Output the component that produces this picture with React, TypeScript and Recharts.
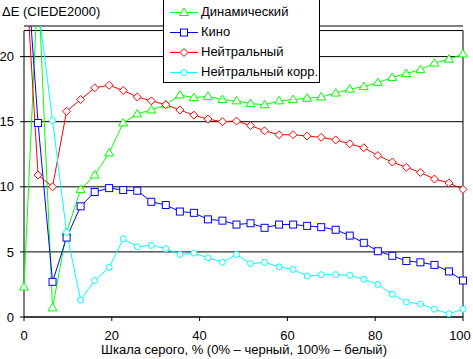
import { CartesianGrid, Legend, Line, LineChart, ReferenceLine, XAxis, YAxis } from "recharts";

const font = "'Liberation Sans', Arial, sans-serif";

// grey level, % (32 steps)
const grey = [
  0, 3.2, 6.5, 9.7, 12.9, 16.1, 19.4, 22.6, 25.8, 29.0, 32.3, 35.5, 38.7, 41.9, 45.2, 48.4,
  51.6, 54.8, 58.1, 61.3, 64.5, 67.7, 71.0, 74.2, 77.4, 80.6, 83.9, 87.1, 90.3, 93.5, 96.8, 100,
];
const dynamic = [
  2.3, 26, 0.7, 6.5, 9.8, 10.9, 12.6, 14.9, 15.6, 15.9, 16.3, 17.05, 16.85, 16.95, 16.7, 16.6,
  16.4, 16.3, 16.6, 16.7, 16.8, 16.9, 17.2, 17.5, 17.7, 18.0, 18.4, 18.7, 19.0, 19.5, 19.8, 20.2,
];
const cinema = [
  30, 14.9, 2.7, 6.1, 8.5, 9.6, 9.9, 9.75, 9.7, 8.85, 8.6, 8.1, 8.0, 7.5, 7.4, 7.1,
  7.2, 6.85, 7.1, 7.1, 7.0, 6.9, 6.7, 6.25, 5.7, 5.05, 4.7, 4.3, 4.2, 4.0, 3.5, 2.8,
];
const neutral = [
  28.8, 10.9, 10.0, 15.8, 16.7, 17.6, 17.8, 17.4, 16.9, 16.6, 16.3, 15.9, 15.5, 15.2, 15.0, 15.05,
  14.7, 14.3, 14.0, 14.0, 13.9, 13.8, 13.6, 13.3, 13.0, 12.4, 11.9, 11.5, 11.1, 10.6, 10.3, 9.8,
];
const neutralCorr = [
  25, 24, 15.1, 6.5, 1.3, 2.8, 3.8, 6.0, 5.4, 5.5, 5.25, 4.8, 4.9, 4.55, 4.2, 4.8,
  4.1, 4.2, 3.85, 3.65, 3.15, 3.25, 3.25, 3.2, 2.9, 2.5, 1.75, 1.15, 1.0, 0.6, 0.25, 0.6,
];

const xTicks = [0, 20, 40, 60, 80, 100];
const yTicks = [0, 5, 10, 15, 20];

const series = [
  { key: "dynamic", name: "Динамический", color: "#00ff00", shape: "triangle" },
  { key: "cinema", name: "Кино", color: "#0000ff", shape: "square" },
  { key: "neutral", name: "Нейтральный", color: "#ff0000", shape: "diamond" },
  { key: "neutralCorr", name: "Нейтральный корр.", color: "#00ffff", shape: "circle" },
];

const data = grey.map((x, i) => ({
  x,
  dynamic: dynamic[i],
  cinema: cinema[i],
  neutral: neutral[i],
  neutralCorr: neutralCorr[i],
}));

function Marker({ shape, color, cx, cy }: { shape: string; color: string; cx: number; cy: number }) {
  const common = { fill: "#fff", stroke: color, strokeWidth: 1 };
  if (shape === "triangle") {
    return <polygon points={`${cx},${cy - 4.5} ${cx + 4.5},${cy + 3} ${cx - 4.5},${cy + 3}`} {...common} />;
  }
  if (shape === "square") {
    return <rect x={cx - 3.5} y={cy - 3.5} width={7} height={7} {...common} />;
  }
  if (shape === "diamond") {
    return <polygon points={`${cx},${cy - 4} ${cx + 4},${cy} ${cx},${cy + 4} ${cx - 4},${cy}`} {...common} />;
  }
  return <circle cx={cx} cy={cy} r={3} {...common} />;
}

function dotFor(shape: string, color: string) {
  return (p: any) => {
    if (p.cx == null || p.cy == null || isNaN(p.cy)) return <g key={p.index} />;
    return (
      <g key={p.index}>
        <Marker shape={shape} color={color} cx={p.cx} cy={p.cy} />
      </g>
    );
  };
}

// last label sits a little inside the right edge, like the original
function XTick(props: any) {
  const { x, y, payload } = props;
  const shift = payload.value === 100 ? -3 : 0;
  return (
    <text x={x + shift} y={y} dy="0.71em" textAnchor="middle" fill="#000" fontSize={13} fontFamily={font}>
      {payload.value}
    </text>
  );
}

function LegendBox() {
  return (
    <div
      style={{
        position: "relative",
        width: 157,
        height: 84,
        border: "1px solid #000",
        background: "#fff",
        boxSizing: "border-box",
        fontFamily: font,
        fontSize: 13,
        color: "#000",
      }}
    >
      {series.map((s, i) => (
        <div
          key={s.key}
          style={{ position: "absolute", left: 0, top: 1.7 + i * 20, height: 20, display: "flex", alignItems: "center" }}
        >
          <svg width={37} height={20} style={{ display: "block" }}>
            <line x1={6} x2={34} y1={10.5} y2={10.5} stroke={s.color} />
            <Marker shape={s.shape} color={s.color} cx={20} cy={10.5} />
          </svg>
          <span style={{ whiteSpace: "nowrap" }}>{s.name}</span>
        </div>
      ))}
    </div>
  );
}

export default function App() {
  return (
    <div style={{ position: "absolute", left: 0, top: 0, width: 473, height: 359, background: "#fff" }}>
      <LineChart width={473} height={359} data={data} margin={{ top: 26, right: 10, left: 0, bottom: 0 }}>
        <CartesianGrid vertical={false} stroke="#000" />
        <XAxis
          dataKey="x"
          type="number"
          domain={[0, 100]}
          ticks={xTicks}
          interval={0}
          height={42}
          stroke="#000"
          tickSize={4}
          tickMargin={10}
          tick={<XTick />}
        />
        <YAxis
          type="number"
          domain={[0, 22.35]}
          allowDataOverflow
          ticks={yTicks}
          interval={0}
          width={24}
          axisLine={false}
          stroke="#000"
          tickSize={4}
          tickMargin={6}
          tick={{ fill: "#000", fontSize: 13, fontFamily: font }}
        />
        <ReferenceLine segment={[{ x: 0, y: 0 }, { x: 0, y: 22 }]} stroke="#000" />
        <ReferenceLine segment={[{ x: 0, y: 22 }, { x: 100, y: 22 }]} stroke="#000" />
        <ReferenceLine segment={[{ x: 100, y: 0 }, { x: 100, y: 22 }]} stroke="#000" />
        {series.map((s) => (
          <Line
            key={s.key}
            dataKey={s.key}
            name={s.name}
            stroke={s.color}
            strokeWidth={1}
            dot={dotFor(s.shape, s.color)}
            activeDot={false}
            isAnimationActive={false}
          />
        ))}
        <Legend
          layout="vertical"
          align="center"
          verticalAlign="middle"
          wrapperStyle={{ left: 163, top: -1, width: 157, height: 84 }}
          content={() => <LegendBox />}
        />
      </LineChart>
      <div style={{ position: "absolute", left: 2, top: 4, fontFamily: font, fontSize: 13, lineHeight: "15px", color: "#000" }}>
        ΔE (CIEDE2000)
      </div>
      <div
        style={{
          position: "absolute",
          left: 0,
          width: 488,
          top: 342,
          textAlign: "center",
          fontFamily: font,
          fontSize: 13,
          lineHeight: "15px",
          color: "#000",
          whiteSpace: "nowrap",
        }}
      >
        Шкала серого, % (0% – черный, 100% – белый)
      </div>
    </div>
  );
}
